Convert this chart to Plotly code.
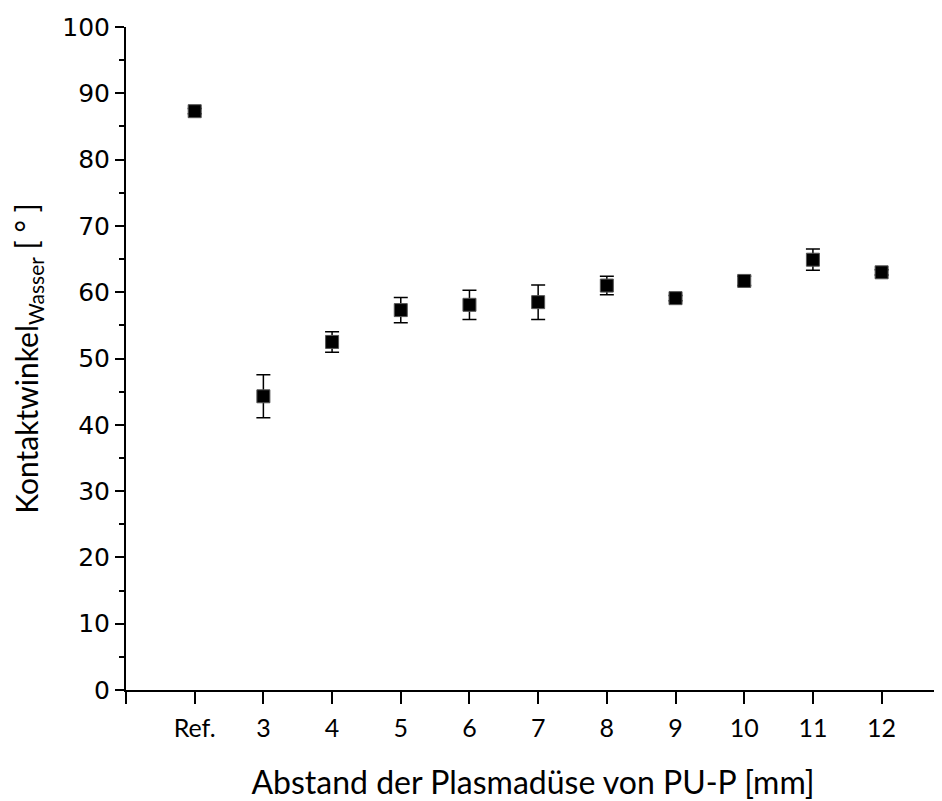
import plotly.graph_objects as go

categories = ["Ref.", "3", "4", "5", "6", "7", "8", "9", "10", "11", "12"]
positions = [2, 3, 4, 5, 6, 7, 8, 9, 10, 11, 12]
contact_angle = [87.3, 44.3, 52.5, 57.3, 58.1, 58.5, 61.0, 59.1, 61.7, 64.9, 63.0]
error = [0.4, 3.25, 1.55, 1.9, 2.2, 2.6, 1.4, 0.4, 0.7, 1.6, 0.4]

fig = go.Figure()
fig.add_trace(go.Scatter(
    x=positions, y=contact_angle, mode="markers",
    marker=dict(symbol="square", size=13, color="black",
                line=dict(color="#555555", width=1)),
    error_y=dict(type="data", array=error, visible=True, color="black",
                 thickness=1.5, width=7),
    showlegend=False,
))

fig.update_layout(
    width=934, height=793,
    margin=dict(l=118, r=2, t=19, b=111, autoexpand=False),
    plot_bgcolor="white", paper_bgcolor="white",
    xaxis=dict(
        range=[1, 12.85], automargin=False,
        tickvals=[1] + positions, ticktext=[""] + categories,
        showgrid=False, zeroline=False,
        showline=True, linecolor="black", linewidth=2,
        ticks="outside", ticklen=12, tickwidth=2, tickcolor="black",
        ticklabelstandoff=3,
        tickfont=dict(family="Lato", size=25, color="black"),
        title=dict(text="Abstand der Plasmadüse von PU-P [mm]",
                   font=dict(family="Lato", size=32, color="black"),
                   standoff=32),
    ),
    yaxis=dict(
        range=[0, 100], dtick=10, automargin=False,
        showgrid=False, zeroline=False,
        showline=True, linecolor="black", linewidth=2,
        ticks="outside", ticklen=9, tickwidth=2, tickcolor="black",
        minor=dict(dtick=5, ticks="outside", ticklen=5, tickwidth=2, tickcolor="black"),
        tickfont=dict(family="DejaVu Sans", size=25, color="black"),
        title=dict(text="Kontaktwinkel<sub>Wasser</sub> [ ° ]",
                   font=dict(family="Lato", size=30, color="black"),
                   standoff=16),
    ),
)

fig.write_html("out.html")
